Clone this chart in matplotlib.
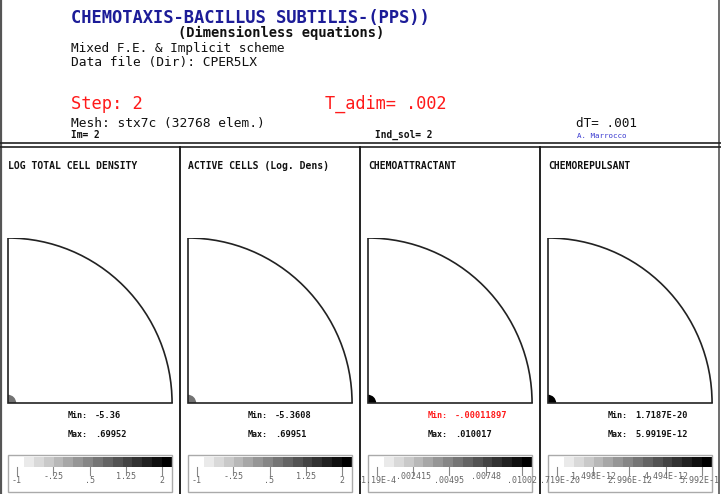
import numpy as np
import matplotlib
matplotlib.use("Agg")
import matplotlib.pyplot as plt
from matplotlib.patches import Wedge, Rectangle, Arc
from matplotlib.transforms import Bbox, TransformedBbox

# --- data ---
title_main = "CHEMOTAXIS-BACILLUS SUBTILIS-(PPS))"
title_sub = "(Dimensionless equations)"
info_lines = ["Mixed F.E. & Implicit scheme", "Data file (Dir): CPER5LX"]
step_text = "Step: 2"
time_text = "T_adim= .002"
mesh_text = "Mesh: stx7c (32768 elem.)"
dt_text = "dT= .001"
im_text = "Im= 2"
indsol_text = "Ind_sol= 2"
author_text = "A. Marrocco"

panel_titles = ["LOG TOTAL CELL DENSITY", "ACTIVE CELLS (Log. Dens)",
                "CHEMOATTRACTANT", "CHEMOREPULSANT"]
min_labels = ["-5.36", "-5.3608", "-.00011897", "1.7187E-20"]
max_labels = [".69952", ".69951", ".010017", "5.9919E-12"]
min_red = [False, False, True, False]
# colour of the small region around the origin (0 = black, 1 = white)
origin_shade = [0.45, 0.45, 0.0, 0.0]

tick_values = [
    [-1, -0.25, 0.5, 1.25, 2],
    [-1, -0.25, 0.5, 1.25, 2],
    [-1.19e-4, 0.002415, 0.00495, 0.00748, 0.01002],
    [1.719e-20, 1.498e-12, 2.996e-12, 4.494e-12, 5.992e-12],
]
tick_labels = [
    ["-1", "-.25", ".5", "1.25", "2"],
    ["-1", "-.25", ".5", "1.25", "2"],
    ["-1.19E-4", ".002415", ".00495", ".00748", ".01002"],
    ["1.719E-20", "1.498E-12", "2.996E-12", "4.494E-12", "5.992E-12"],
]
n_levels = 15

# --- figure in pixel units ---
W, H = 721, 494
fig = plt.figure(figsize=(W / 100, H / 100), dpi=100)
plt.rcParams["font.family"] = ["DejaVu Sans Mono"]

bg = fig.add_axes([0, 0, 1, 1])
bg.set_xlim(0, W)
bg.set_ylim(H, 0)
bg.axis("off")

RED = "#ff1a1a"
NAVY = "#1c1c98"


def px_axes(x0, y0, x1, y1):
    """axes placed by pixel box (top-left origin)"""
    return fig.add_axes([x0 / W, 1 - y1 / H, (x1 - x0) / W, (y1 - y0) / H])


# header text
bg.text(71, 23, title_main, fontsize=12.3, fontweight="bold", color=NAVY)
bg.text(178, 37, title_sub, fontsize=9.9, fontweight="bold", color="#111111")
bg.text(71, 52, info_lines[0], fontsize=9.2, color="#111111")
bg.text(71, 66, info_lines[1], fontsize=9.3, color="#111111")
bg.text(71, 109, step_text, fontsize=12.3, color=RED)
bg.text(325, 109, time_text, fontsize=12.2, color=RED)
bg.text(71, 127, mesh_text, fontsize=9.3, color="#111111")
bg.text(576, 127, dt_text, fontsize=9.1, color="#111111")
bg.text(71, 138, im_text, fontsize=6.9, fontweight="bold", color="#111111")
bg.text(375, 138, indsol_text, fontsize=6.9, fontweight="bold", color="#111111")
bg.text(577, 138, author_text, fontsize=5.4, color="#3a3ad0")

# frame lines
bg.plot([1, 1], [0, H], color="#555555", lw=1.6)
bg.plot([719, 719], [0, H], color="#555555", lw=1.2)
bg.plot([0, W], [143, 143], color="#222222", lw=1.2)
bg.plot([0, W], [147, 147], color="#222222", lw=1.2)
for xd in (180, 360, 540):
    bg.plot([xd, xd], [147, H], color="#111111", lw=1.3)

grays = np.linspace(0.92, 0.0, n_levels)
cmap = matplotlib.colors.ListedColormap([(g, g, g) for g in grays])

for i in range(4):
    px = 180 * i

    bg.text(px + 8, 169, panel_titles[i], fontsize=7.0, fontweight="bold",
            color="#111111")

    # quarter-disk domain
    dom = px_axes(px + 6, 238, px + 176, 405)
    dom.set_xlim(-0.012, 1.024)
    dom.set_ylim(-0.012, 1.0)
    dom.set_aspect("auto")
    dom.axis("off")
    dom.add_patch(Wedge((0, 0), 0.05, 0, 90,
                        color=(origin_shade[i],) * 3, lw=0))
    dom.plot([0, 0, 1], [1, 0, 0], color="#222222", lw=1.2,
             solid_joinstyle="miter")
    dom.add_patch(Arc((0, 0), 2, 2, theta1=0, theta2=90,
                      color="#222222", lw=1.2))

    # min / max values
    mcol = RED if min_red[i] else "#111111"
    bg.text(px + 68, 418, "Min:", fontsize=6, fontweight="bold", color=mcol)
    bg.text(px + 95, 418, min_labels[i], fontsize=6.2, fontweight="bold",
            color=mcol)
    bg.text(px + 68, 437, "Max:", fontsize=6, fontweight="bold",
            color="#111111")
    bg.text(px + 95, 437, max_labels[i], fontsize=6.2, fontweight="bold",
            color="#111111")

    # colour scale
    cb = px_axes(px + 8, 455, px + 172, 492)
    cb.axis("off")
    tv = tick_values[i]
    span = tv[-1] - tv[0]
    f0, f1 = (17 - 8) / 164, (162 - 8) / 164
    lo = tv[0] - f0 / (f1 - f0) * span
    hi = tv[-1] + (1 - f1) / (f1 - f0) * span
    cb.set_xlim(lo, hi)
    cb.set_ylim(0, 1)
    g0 = lo + (24 - 8) / 164 * (hi - lo)
    cb.imshow(np.arange(n_levels)[None, :], cmap=cmap, aspect="auto",
              extent=(g0, hi, 0.676, 0.946), interpolation="nearest")
    cb.add_patch(Rectangle((0, 0), 1, 1, transform=cb.transAxes,
                           fill=False, ec="#aaaaaa", lw=1.0, clip_on=False))

    clip = TransformedBbox(Bbox.from_extents(px / W, 0, min(px + 180, W) / W,
                                             1), fig.transFigure)
    for k, (v, lab) in enumerate(zip(tv, tick_labels[i])):
        cb.plot([v, v], [0.459, 0.676], color="#888888", lw=0.8)
        ty = 0.35 if k % 2 else 0.24
        t = cb.text(v, ty, lab, fontsize=6, color="#666666", ha="center",
                    va="baseline")
        t.set_clip_on(True)
        t.set_clip_box(clip)

fig.savefig("out.png", dpi=100)
